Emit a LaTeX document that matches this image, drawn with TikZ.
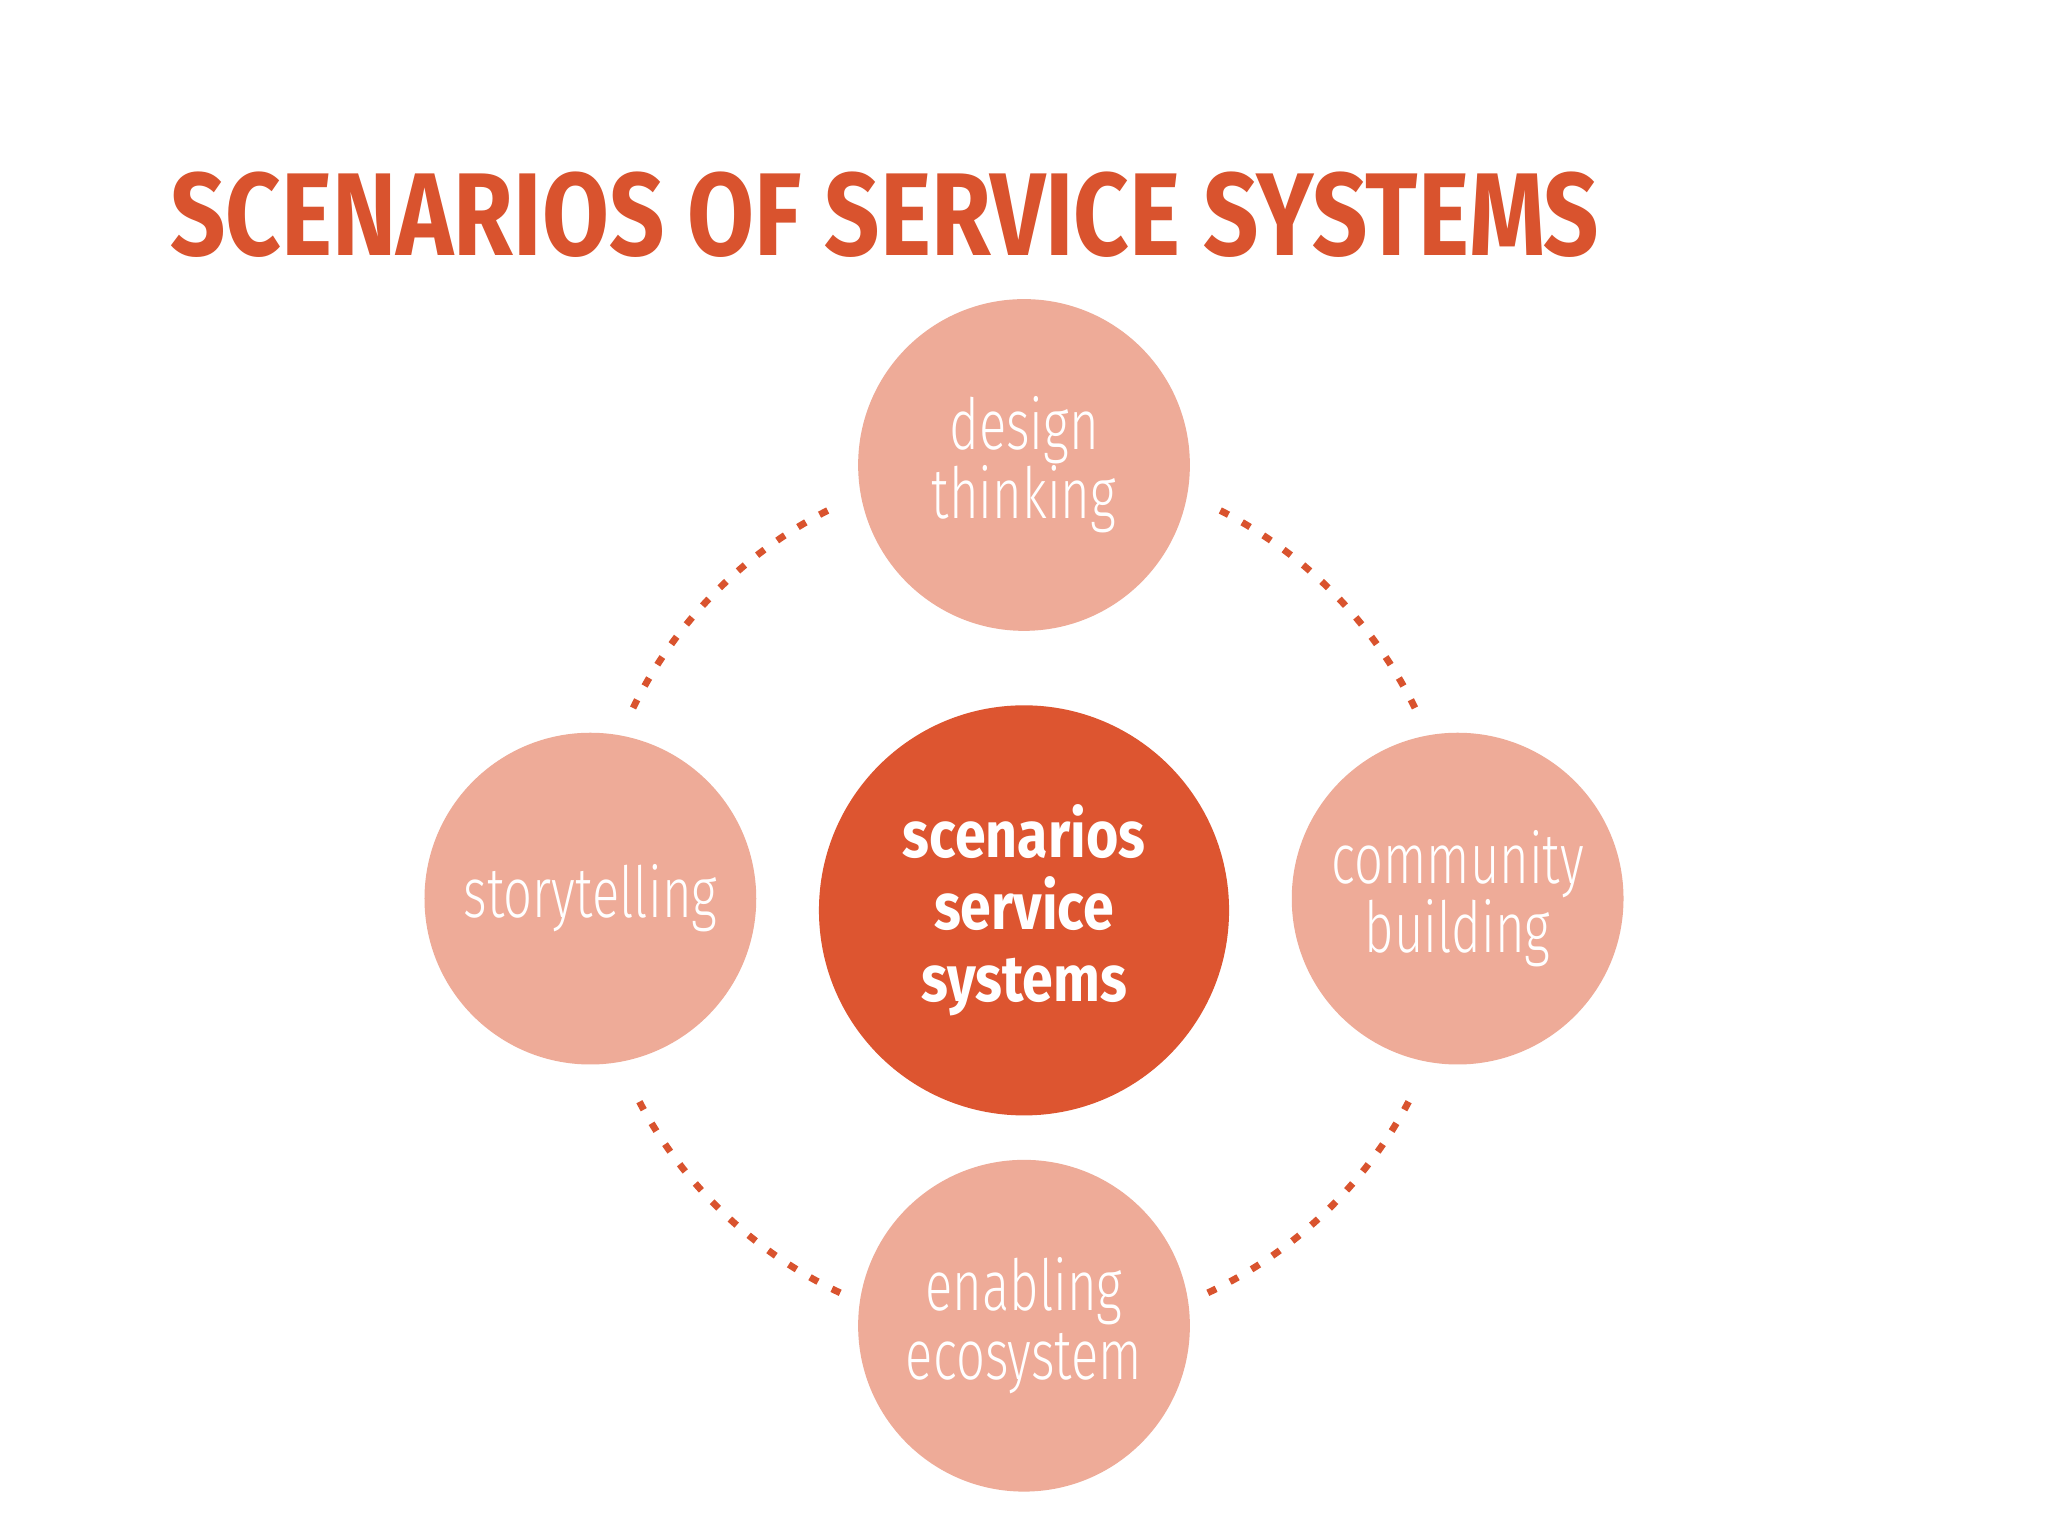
\documentclass[tikz,border=0pt]{standalone}
\usepackage{fontspec}
\setmainfont{Fira Sans}
\newfontfamily\lightf{Fira Sans Light}
\definecolor{tit}{HTML}{D9532E}
\definecolor{mid}{HTML}{DD5530}
\definecolor{pale}{HTML}{EEAB98}
\begin{document}
\begin{tikzpicture}[x=0.5pt,y=-0.5pt]
\tikzset{
  sat/.style={circle,fill=pale,minimum size=127pt,inner sep=0pt,text=white,align=center,font=\lightf\fontsize{27}{26.5}\selectfont},
  hub/.style={circle,fill=mid,minimum size=157pt,inner sep=0pt,text=white,align=center,font=\bfseries\fontsize{25}{27.5}\selectfont},
  dotarc/.style={draw=tit,line width=2.6pt,dash pattern=on 3.5pt off 6pt}
}
\useasboundingbox[fill=white] (0,0) rectangle (1568,1176);
\node[anchor=west,text=tit,inner sep=0pt] (title) at (130,164)
  {\resizebox{547pt}{32pt}{\bfseries SCENARIOS OF SERVICE SYSTEMS}};
\coordinate (c) at (784,688);
\draw[dotarc] (c) ++(115:333) arc[start angle=115,end angle=154,radius=333];
\draw[dotarc] (c) ++(65:333) arc[start angle=65,end angle=26,radius=333];
\draw[dotarc] (c) ++(206:333) arc[start angle=206,end angle=245,radius=333];
\draw[dotarc] (c) ++(334:333) arc[start angle=334,end angle=295,radius=333];
\node[sat] (top) at (784,356) {\scalebox{0.72}[1]{design}\\\scalebox{0.72}[1]{thinking}};
\node[sat] (left) at (452,688) {\scalebox{0.72}[1]{storytelling}};
\node[sat] (right) at (1116,688) {\scalebox{0.72}[1]{community}\\\scalebox{0.72}[1]{building}};
\node[sat] (bottom) at (784,1015) {\scalebox{0.72}[1]{enabling}\\\scalebox{0.72}[1]{ecosystem}};
\node[hub] (hubn) at (784,697) {\scalebox{0.85}[1]{scenarios}\\\scalebox{0.85}[1]{service}\\\scalebox{0.85}[1]{systems}};
\end{tikzpicture}
\end{document}
